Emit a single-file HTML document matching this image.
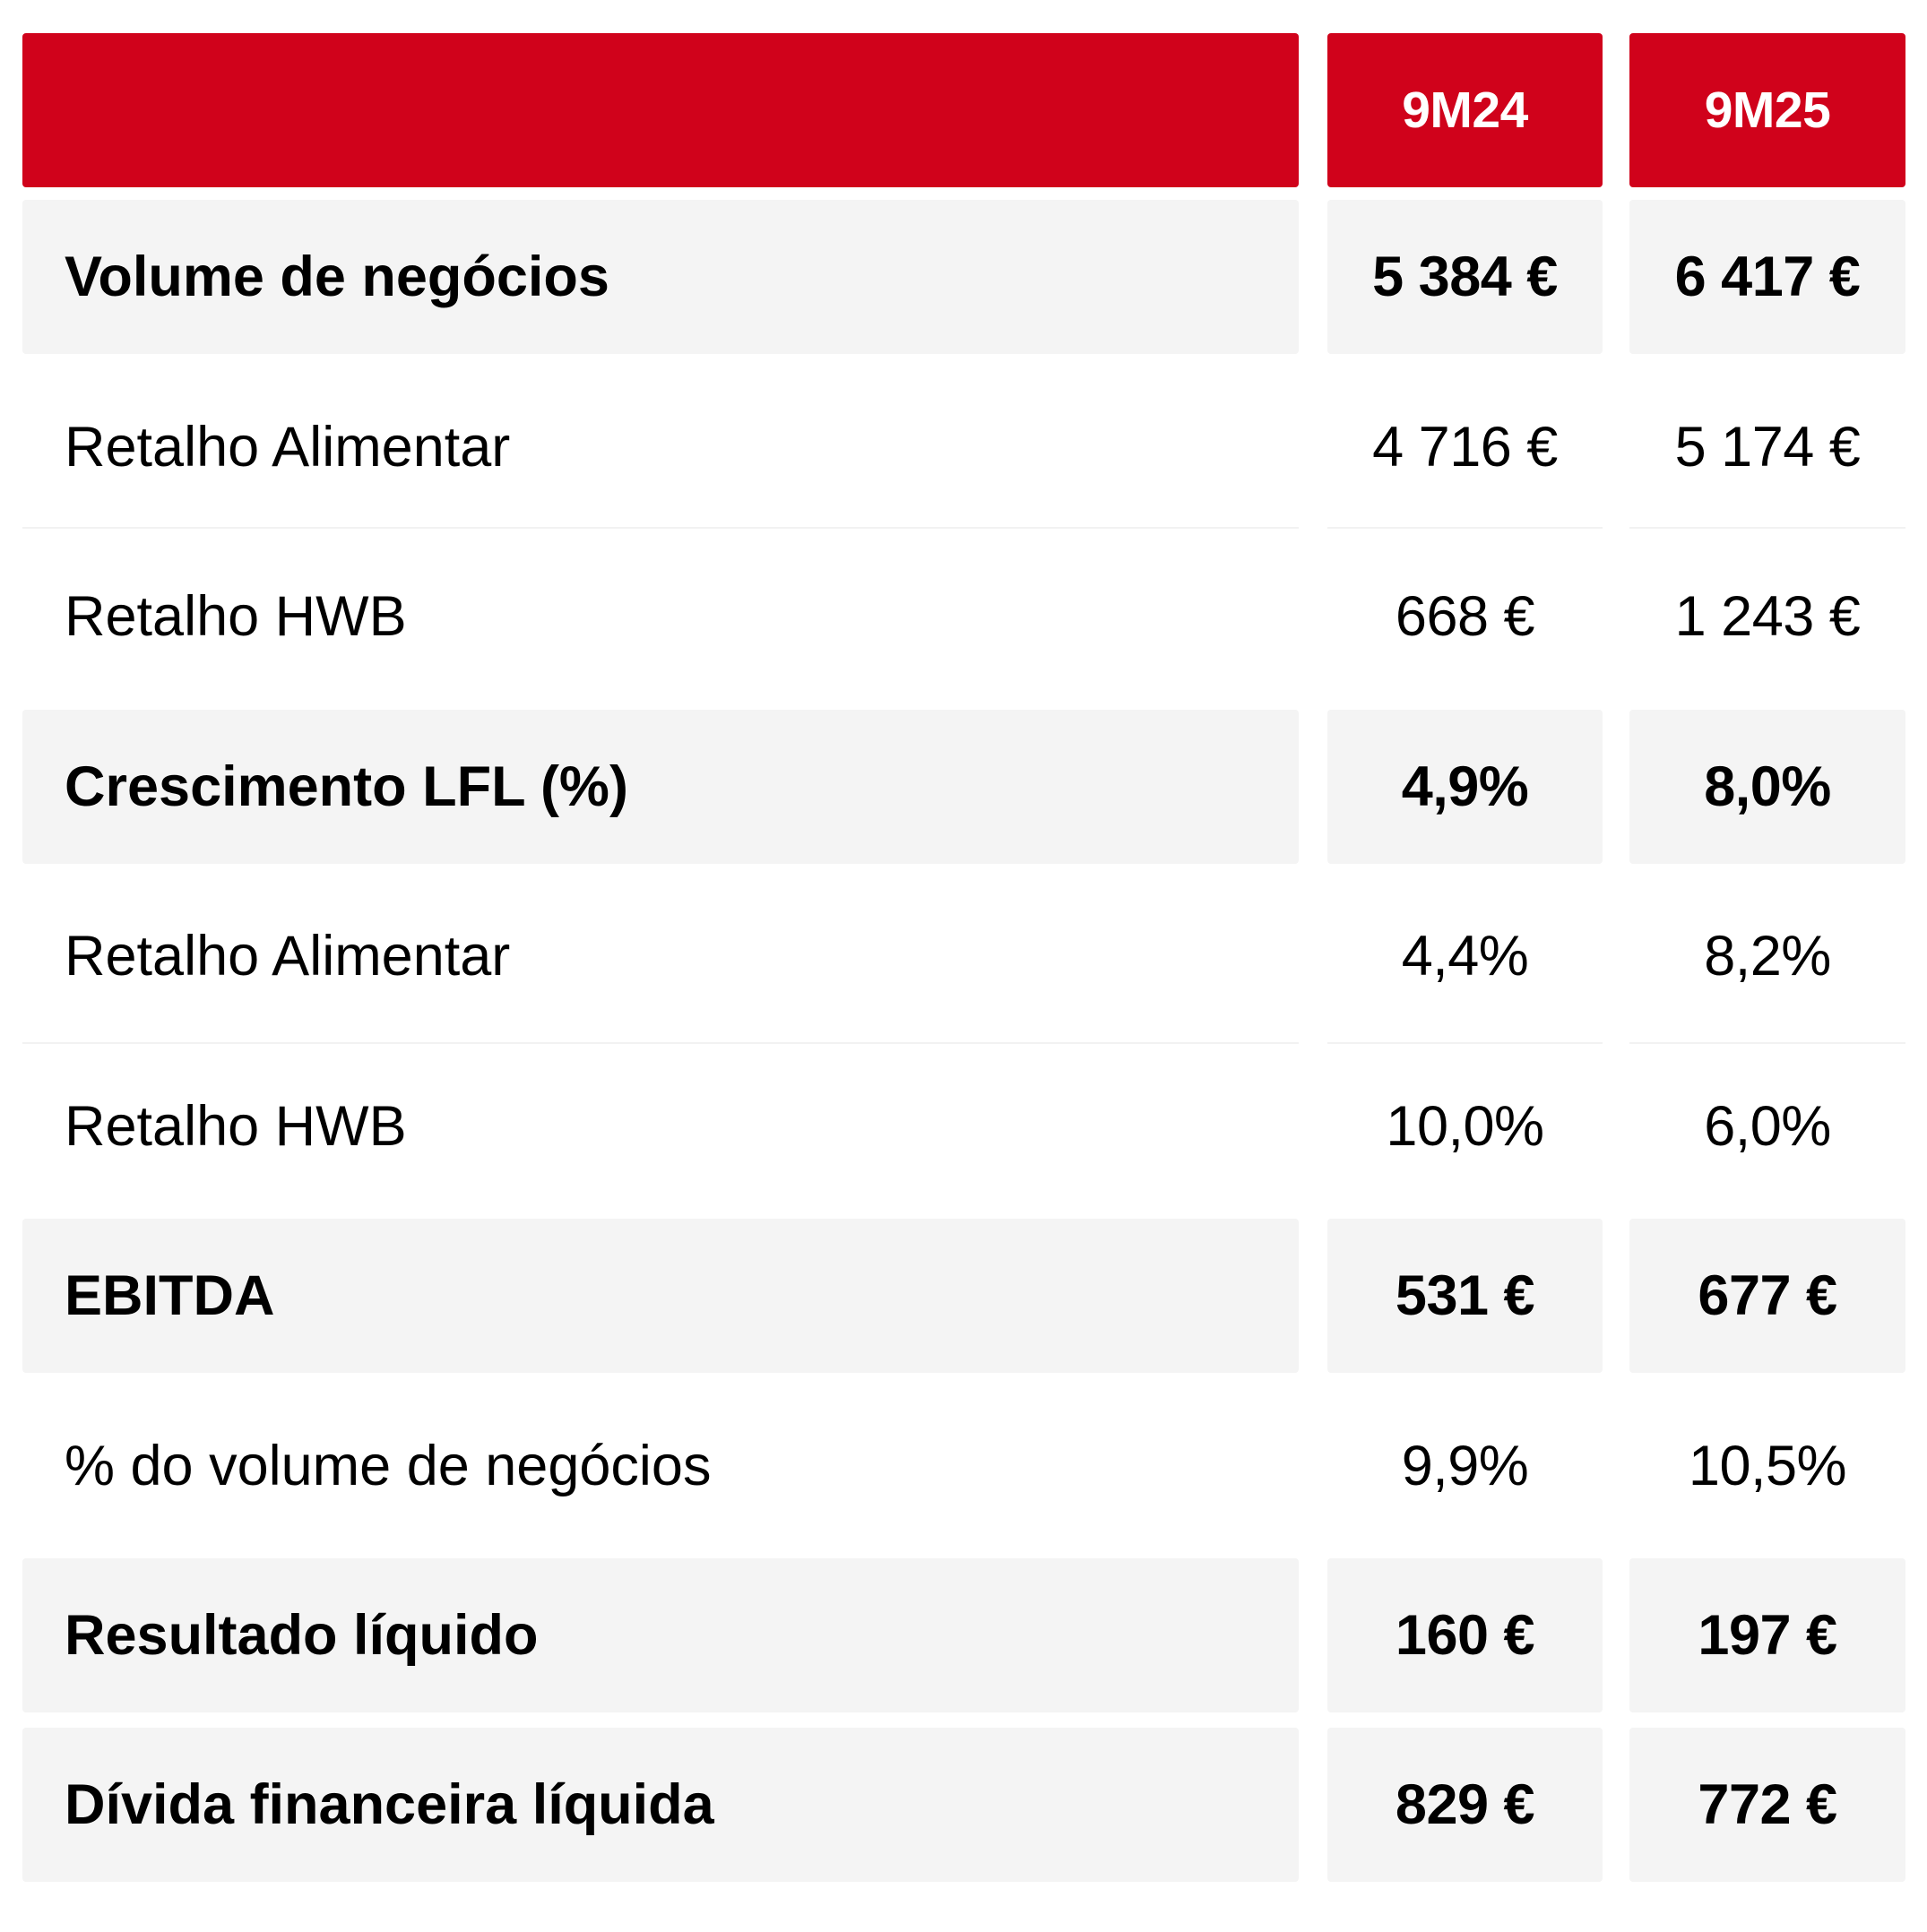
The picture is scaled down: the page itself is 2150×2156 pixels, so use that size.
<!DOCTYPE html>
<html><head><meta charset="utf-8"><style>
body{margin:0;width:2150px;height:2156px;background:#fff;position:relative;font-family:"Liberation Sans",Arial,sans-serif;overflow:hidden}
.c{position:absolute;height:172px;display:flex;align-items:center;border-radius:4px;box-sizing:border-box}
.g{background:#f4f4f4}
.r{background:#d0021b;color:#fff;font-weight:bold;font-size:57px;justify-content:center;letter-spacing:-0.5px}
.l{left:25px;width:1424px;padding-left:47px;font-size:63px;letter-spacing:0px}
.v1{left:1481px;width:307px;justify-content:center;font-size:63px;letter-spacing:-0.5px}
.v2{left:1818px;width:308px;justify-content:center;font-size:63px;letter-spacing:-0.5px}
.b{font-weight:bold}
.sep{position:absolute;height:2px;background:#f2f2f2}
</style></head><body>
<div class="c r" style="left:25px;width:1424px;top:37px"></div>
<div class="c r" style="left:1481px;width:307px;top:37px">9M24</div>
<div class="c r" style="left:1818px;width:308px;top:37px">9M25</div>

<div class="c g l b" style="top:223px">Volume de negócios</div>
<div class="c g v1 b" style="top:223px">5 384 €</div>
<div class="c g v2 b" style="top:223px">6 417 €</div>

<div class="c l" style="top:413px">Retalho Alimentar</div>
<div class="c v1" style="top:413px">4 716 €</div>
<div class="c v2" style="top:413px">5 174 €</div>
<div class="sep" style="top:588px;left:25px;width:1424px"></div>
<div class="sep" style="top:588px;left:1481px;width:307px"></div>
<div class="sep" style="top:588px;left:1818px;width:308px"></div>

<div class="c l" style="top:602px">Retalho HWB</div>
<div class="c v1" style="top:602px">668 €</div>
<div class="c v2" style="top:602px">1 243 €</div>

<div class="c g l b" style="top:792px">Crescimento LFL (%)</div>
<div class="c g v1 b" style="top:792px">4,9%</div>
<div class="c g v2 b" style="top:792px">8,0%</div>

<div class="c l" style="top:981px">Retalho Alimentar</div>
<div class="c v1" style="top:981px">4,4%</div>
<div class="c v2" style="top:981px">8,2%</div>
<div class="sep" style="top:1163px;left:25px;width:1424px"></div>
<div class="sep" style="top:1163px;left:1481px;width:307px"></div>
<div class="sep" style="top:1163px;left:1818px;width:308px"></div>

<div class="c l" style="top:1171px">Retalho HWB</div>
<div class="c v1" style="top:1171px">10,0%</div>
<div class="c v2" style="top:1171px">6,0%</div>

<div class="c g l b" style="top:1360px">EBITDA</div>
<div class="c g v1 b" style="top:1360px">531 €</div>
<div class="c g v2 b" style="top:1360px">677 €</div>

<div class="c l" style="top:1550px">% do volume de negócios</div>
<div class="c v1" style="top:1550px">9,9%</div>
<div class="c v2" style="top:1550px">10,5%</div>

<div class="c g l b" style="top:1739px">Resultado líquido</div>
<div class="c g v1 b" style="top:1739px">160 €</div>
<div class="c g v2 b" style="top:1739px">197 €</div>

<div class="c g l b" style="top:1928px">Dívida financeira líquida</div>
<div class="c g v1 b" style="top:1928px">829 €</div>
<div class="c g v2 b" style="top:1928px">772 €</div>
</body></html>
